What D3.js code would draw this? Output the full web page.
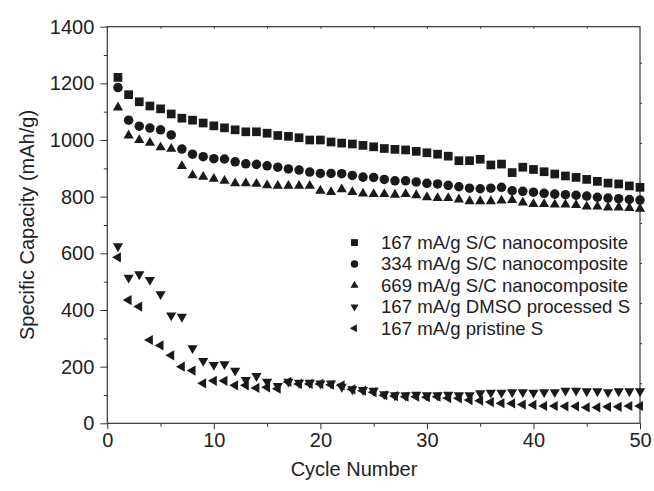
<!DOCTYPE html>
<html>
<head>
<meta charset="utf-8">
<script src="https://cdn.jsdelivr.net/npm/d3@7"></script>
<style>
  body { margin: 0; background: #fff; }
  text { font-family: "Liberation Sans", Arial, sans-serif; fill: #222; }
</style>
</head>
<body>
<div id="chart"></div>
<script>
// cycle numbers 1..50
const cycles = d3.range(1, 51);

// specific capacity (mAh/g)
const sc167 = [1221,1160,1135,1120,1110,1092,1077,1070,1060,1050,
  1043,1036,1029,1029,1024,1016,1013,1008,1000,1000,
  993,989,986,981,976,970,967,965,960,955,
  950,943,927,927,932,912,915,885,904,896,
  888,880,873,868,861,854,848,845,838,833];
const sc334 = [1185,1070,1049,1042,1036,1018,968,950,941,934,
  933,923,916,914,909,904,898,894,887,882,
  882,881,875,869,868,861,856,856,852,847,
  845,840,835,830,828,830,833,821,819,816,
  812,809,807,805,802,798,795,793,790,788];
const sc669 = [1115,1016,1000,990,974,969,908,875,870,863,
  856,847,847,845,840,838,838,838,838,821,
  816,826,816,811,809,809,807,809,805,798,
  795,795,790,784,784,784,786,788,779,774,
  774,772,772,770,765,765,762,762,760,757];
const dmso167 = [625,514,526,506,456,381,376,265,220,206,
  209,186,153,167,147,132,147,143,143,141,
  141,129,120,118,115,103,99,99,101,99,
  99,101,99,99,106,108,108,110,110,108,
  110,110,115,115,113,113,110,113,113,113];
const pristine167 = [586,435,412,294,275,240,200,186,141,150,
  150,134,134,125,127,122,146,139,139,139,
  136,134,120,115,110,99,96,94,94,92,
  94,89,88,82,80,75,71,70,66,65,
  61,61,60,60,56,56,58,58,61,61];

const seriesNames = [
  "167 mA/g S/C nanocomposite",
  "334 mA/g S/C nanocomposite",
  "669 mA/g S/C nanocomposite",
  "167 mA/g DMSO processed S",
  "167 mA/g pristine S"
];
const xTicks = [0, 10, 20, 30, 40, 50];
const yTicks = [0, 200, 400, 600, 800, 1000, 1200, 1400];

const W = 654, H = 491;
const margin = { top: 26.7, right: 14, bottom: 67.7, left: 107.3 };
const width = W - margin.left - margin.right;
const height = H - margin.top - margin.bottom;

const svg = d3.select("#chart").append("svg")
  .attr("width", W)
  .attr("height", H);

const g = svg.append("g")
  .attr("transform", `translate(${margin.left},${margin.top})`);

const x = d3.scaleLinear().domain([0, 50]).range([0, width]);
const y = d3.scaleLinear().domain([0, 1400]).range([height, 0]);
// right-hand frame has its own unlabeled tick spacing
const yRight = d3.scaleLinear().domain([0, 9.9]).range([height, 0]);

const axisColor = "#333";

// minor ticks first, then major with labels
g.append("g")
  .attr("transform", `translate(0,${height})`)
  .call(d3.axisBottom(x).tickValues(d3.range(5, 50, 10)).tickSize(3.5).tickFormat(""));
g.append("g")
  .attr("transform", `translate(0,${height})`)
  .call(d3.axisBottom(x).tickValues(xTicks).tickSize(6).tickPadding(4).tickFormat(d3.format("d")));

g.append("g")
  .call(d3.axisLeft(y).tickValues(d3.range(100, 1400, 200)).tickSize(3.5).tickFormat(""));
g.append("g")
  .call(d3.axisLeft(y).tickValues(yTicks).tickSize(7).tickPadding(6).tickFormat(d3.format("d")));

// small inner ticks on top and right frame
g.append("g")
  .call(d3.axisBottom(x).tickValues(d3.range(5, 50, 5)).tickSize(2).tickFormat(""));
g.append("g")
  .attr("transform", `translate(${width},0)`)
  .call(d3.axisRight(yRight).tickValues(d3.range(1, 10)).tickSize(2).tickFormat(""));

g.selectAll(".domain").attr("stroke", "none");
g.selectAll(".tick line").attr("stroke", axisColor).attr("stroke-width", 1);
g.selectAll(".tick text")
  .attr("font-size", 20)
  .attr("fill", "#222")
  .attr("font-family", "\"Liberation Sans\", Arial, sans-serif");

// frame
g.append("rect")
  .attr("x", 0).attr("y", 0)
  .attr("width", width).attr("height", height)
  .attr("fill", "none")
  .attr("stroke", axisColor)
  .attr("stroke-width", 1.2);

// markers
const shapes = [
  { type: d3.symbolSquare, size: 76, rot: 0 },
  { type: d3.symbolCircle, size: 71, rot: 0 },
  { type: d3.symbolTriangle, size: 45, rot: 0 },
  { type: d3.symbolTriangle, size: 45, rot: 180 },
  { type: d3.symbolTriangle, size: 45, rot: -90 }
];
const allSeries = [sc167, sc334, sc669, dmso167, pristine167];

allSeries.forEach((vals, i) => {
  const sh = shapes[i];
  const path = d3.symbol().type(sh.type).size(sh.size)();
  g.append("g").selectAll("path")
    .data(vals)
    .enter()
    .append("path")
    .attr("d", path)
    .attr("fill", "#1a1a1a")
    .attr("transform", (d, j) => `translate(${x(cycles[j])},${y(d)}) rotate(${sh.rot})`);
});

// legend
const legend = g.append("g")
  .attr("transform", `translate(${x(23.2)},${y(638)})`);
seriesNames.forEach((name, i) => {
  const sh = shapes[i];
  const row = legend.append("g").attr("transform", `translate(0,${i * 21.4})`);
  row.append("path")
    .attr("d", d3.symbol().type(sh.type).size(sh.size * 0.62)())
    .attr("fill", "#1a1a1a")
    .attr("transform", `rotate(${sh.rot})`);
  row.append("text")
    .attr("x", 26.5)
    .attr("y", 6.5)
    .attr("font-size", 18.6)
    .text(name);
});

// axis titles
svg.append("text")
  .attr("x", 354)
  .attr("y", 476)
  .attr("text-anchor", "middle")
  .attr("font-size", 20)
  .text("Cycle Number");

svg.append("text")
  .attr("transform", `translate(34,${margin.top + height / 2}) rotate(-90)`)
  .attr("text-anchor", "middle")
  .attr("font-size", 20)
  .text("Specific Capacity (mAh/g)");
</script>
</body>
</html>
